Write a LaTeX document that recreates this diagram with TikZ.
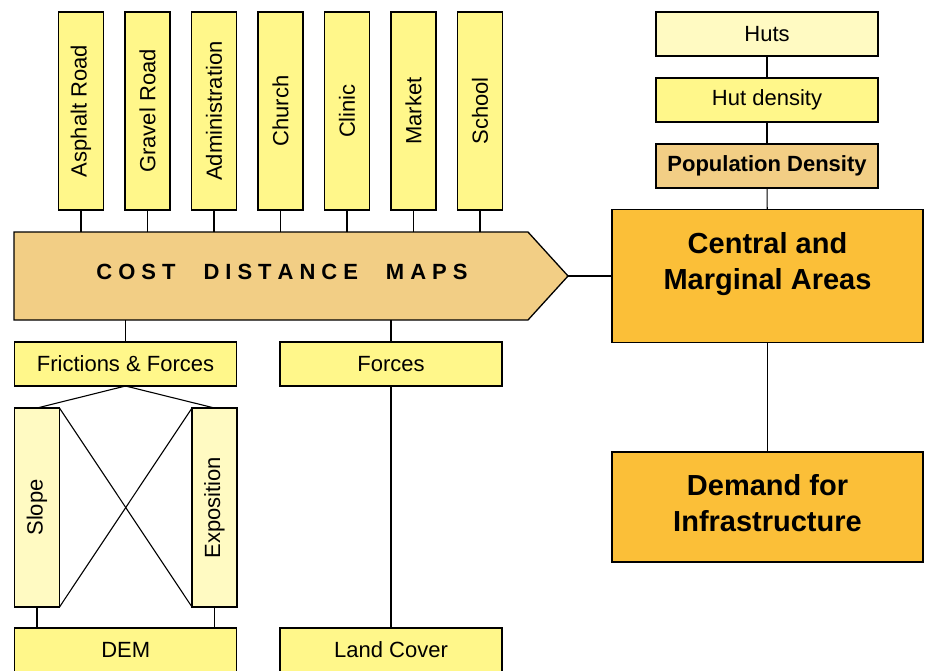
\documentclass[tikz,border=0pt]{standalone}
\usepackage{fontspec}
\setmainfont{Liberation Sans}
\usepackage{graphicx}
\usetikzlibrary{positioning,shapes.symbols}
\definecolor{boxyellow}{HTML}{FFF78A}
\definecolor{paleyellow}{HTML}{FFFAC2}
\definecolor{boxtan}{HTML}{F2CE85}
\definecolor{boxorange}{HTML}{FBBF38}
\newcommand{\gapl}{\hspace{6pt}}
\newcommand{\gapw}{\hspace{28pt}}
\tikzset{
  box/.style={draw, line width=1.3pt, fill=boxyellow, minimum width=222pt,
    minimum height=44pt, inner sep=0pt, outer sep=0pt,
    font=\fontsize{22}{26}\selectfont},
  vbox/.style={box, minimum width=45pt, minimum height=198pt},
  bigbox/.style={box, fill=boxorange, minimum width=311pt},
  bigtext/.style={align=center, inner sep=0pt, font=\fontsize{29}{36}\selectfont\bfseries},
  link/.style={draw, line width=1.1pt}
}
\begin{document}
\begin{tikzpicture}[x=1pt,y=-1pt]
  \useasboundingbox (0,0) rectangle (928,670);
  % factors on top
  \node (asph) [vbox] at (81,111) {\rotatebox{90}{Asphalt Road}};
  \node (grav) [vbox, right=21.5pt of asph] {\rotatebox{90}{Gravel Road}};
  \node (admi) [vbox, right=21.5pt of grav] {\rotatebox{90}{Administration}};
  \node (chur) [vbox, right=21.5pt of admi] {\rotatebox{90}{Church}};
  \node (clin) [vbox, right=21.5pt of chur] {\rotatebox{90}{Clinic}};
  \node (mark) [vbox, right=21.5pt of clin] {\rotatebox{90}{Market}};
  \node (scho) [vbox, right=21.5pt of mark] {\rotatebox{90}{School}};
  % cost distance arrow
  \node (cdm) [draw, line width=1.3pt, fill=boxtan, shape=signal, signal to=east,
    signal pointer angle=95.4, minimum width=554pt, minimum height=88pt,
    inner sep=0pt, outer sep=0pt] at (271,276) {};
  \node (cdmtxt) [inner sep=0pt, font=\fontsize{22}{26}\selectfont\bfseries]
    at ([xshift=11pt,yshift=4pt]cdm.center)
    {C\gapl O\gapl S\gapl T\gapw D\gapl I\gapl S\gapl T\gapl A\gapl N\gapl C\gapl E\gapw M\gapl A\gapl P\gapl S};
  \node (fri) [box] at (125.5,364) {Frictions \& Forces};
  \node (forc) [box] at (391,364) {Forces};
  \node (slope) [vbox, fill=paleyellow, minimum height=199pt] at (37,507.5) {\rotatebox{90}{Slope}};
  \node (expo) [vbox, fill=paleyellow, minimum height=199pt] at (214.5,507.5) {\rotatebox{90}{Exposition}};
  \node (dem) [box] at (125.7,650) {DEM};
  \node (land) [box] at (391,650) {Land Cover};
  % right column
  \node (huts) [box, fill=paleyellow] at (767,34) {Huts};
  \node (hutd) [box, below=22pt of huts] {Hut density};
  \node (popd) [box, fill=boxtan, below=22pt of hutd, font=\fontsize{22}{26}\selectfont\bfseries] {Population Density};
  \node (cma) [bigbox, minimum height=133pt] at (767.5,276) {};
  \node (cmatxt) [bigtext] at ([yshift=12pt]cma.center) {Central and\\Marginal Areas};
  \node (dfi) [bigbox, minimum height=110pt] at (767.5,507) {};
  \node (dfitxt) [bigtext] at ([yshift=4pt]dfi.center) {Demand for\\Infrastructure};
  % links
  \foreach \n in {asph,grav,admi,chur,clin,mark,scho}
    \draw [link] (\n.south) -- (\n.south |- cdm.north);
  \draw [link] (fri.north) -- (fri.north |- cdm.south);
  \draw [link] (forc.north) -- (forc.north |- cdm.south);
  \draw [link] (fri.south) -- (slope.north);
  \draw [link] (fri.south) -- (expo.north);
  \draw [link] (slope.north east) -- (expo.south west);
  \draw [link] (expo.north west) -- (slope.south east);
  \draw [link] (slope.south) -- (slope.south |- dem.north);
  \draw [link] (expo.south) -- (expo.south |- dem.north);
  \draw [link] (forc.south) -- (land.north);
  \draw [link] (cdm.east) -- (cma.west);
  \draw [link] (huts) -- (hutd);
  \draw [link] (hutd) -- (popd);
  \draw [link] (popd) -- (cma);
  \draw [link] (cma) -- (dfi);
\end{tikzpicture}
\end{document}
